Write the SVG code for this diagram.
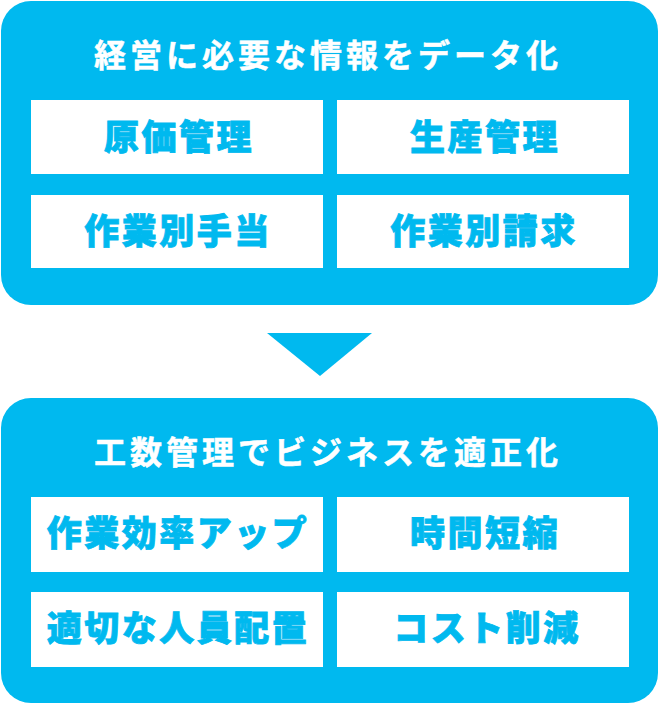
<svg xmlns="http://www.w3.org/2000/svg" width="660" height="704" viewBox="0 0 660 704">
<style>
.panel{fill:#00B9EF}
.cell{fill:#FFFFFF}
.title{font-family:"Noto Sans CJK JP","Noto Sans CJK SC",sans-serif;font-weight:700;font-size:32px;fill:#FFFFFF;stroke:#FFFFFF;stroke-width:0.5px;letter-spacing:4px}
.lbl{font-family:"Noto Sans CJK JP","Noto Sans CJK SC",sans-serif;font-weight:900;font-size:35px;fill:#00B9EF;stroke:#00B9EF;stroke-width:0.8px;letter-spacing:2.5px}
</style>
<rect width="660" height="704" fill="#FFFFFF"/>
<g id="panel-top">
<rect class="panel" x="1" y="1" width="657" height="304" rx="30" ry="30"/>
<text class="title" x="328" y="67" text-anchor="middle">経営に必要な情報をデータ化</text>
</g>
<g id="node-genka"><rect class="cell" x="31" y="100" width="292" height="74"/><text class="lbl" x="179" y="150" text-anchor="middle">原価管理</text></g>
<g id="node-seisan"><rect class="cell" x="337" y="100" width="292" height="74"/><text class="lbl" x="485" y="150" text-anchor="middle">生産管理</text></g>
<g id="node-teate"><rect class="cell" x="31" y="195" width="292" height="73"/><text class="lbl" x="178" y="244" text-anchor="middle">作業別手当</text></g>
<g id="node-seikyu"><rect class="cell" x="337" y="195" width="292" height="73"/><text class="lbl" x="484" y="244" text-anchor="middle">作業別請求</text></g>
<g id="connectors">
<polygon class="panel" points="267,333 372,333 320,376"/>
</g>
<g id="panel-bottom">
<rect class="panel" x="1" y="398" width="657" height="305" rx="30" ry="30"/>
<text class="title" x="328" y="464" text-anchor="middle">工数管理でビジネスを適正化</text>
</g>
<g id="node-kouritsu"><rect class="cell" x="31" y="497" width="292" height="75"/><text class="lbl" x="178" y="546" text-anchor="middle">作業効率アップ</text></g>
<g id="node-jikan"><rect class="cell" x="337" y="497" width="292" height="75"/><text class="lbl" x="485" y="546" text-anchor="middle">時間短縮</text></g>
<g id="node-jinin"><rect class="cell" x="31" y="592" width="292" height="75"/><text class="lbl" x="178" y="641" text-anchor="middle">適切な人員配置</text></g>
<g id="node-cost"><rect class="cell" x="337" y="592" width="292" height="75"/><text class="lbl" x="487" y="641" text-anchor="middle">コスト削減</text></g>
</svg>
